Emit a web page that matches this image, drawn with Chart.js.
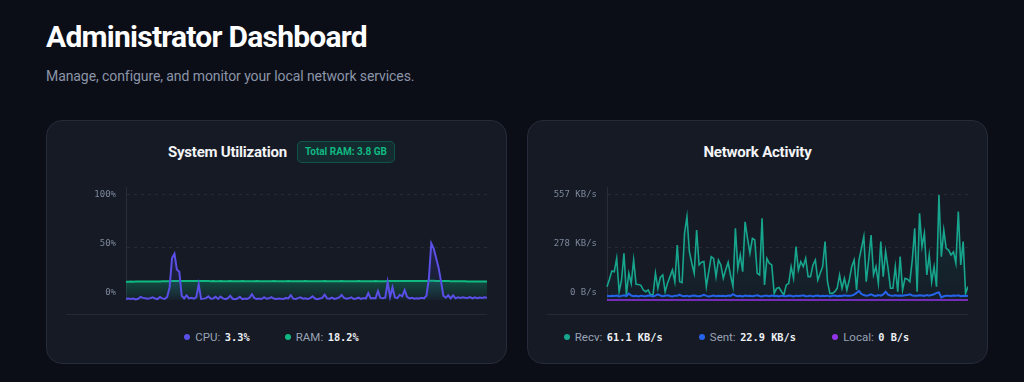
<!DOCTYPE html>
<html>
<head>
<meta charset="utf-8">
<script src="https://cdn.jsdelivr.net/npm/chart.js@4.4.1/dist/chart.umd.min.js"></script>
<style>
  html, body { margin:0; padding:0; }
  body { width:1024px; height:382px; background:#0b0e17; font-family: Roboto, "Noto Sans", sans-serif; position:relative; overflow:hidden; }
  h1 { position:absolute; left:46px; top:19px; margin:0; font:700 30px/36px Roboto; color:#ffffff; letter-spacing:-0.75px; white-space:nowrap; }
  .sub { position:absolute; left:46px; top:66px; margin:0; font:400 14px/20px Roboto; color:#8b95a8; letter-spacing:-0.08px; white-space:nowrap; }
  .card { position:absolute; top:120px; width:461px; height:244px; box-sizing:border-box; background:#151a25; border:1px solid #252b38; border-radius:16px; }
  .titlerow { position:absolute; top:141px; height:22px; width:461px; box-sizing:border-box; display:flex; justify-content:center; align-items:center; gap:10px; }
  .ctitle { font:700 15px/20px Roboto; color:#f3f4f6; letter-spacing:-0.22px; white-space:nowrap; }
  .badge { font:700 10px/20px Roboto; color:#10b981; background:rgba(16,185,129,0.12); border:1px solid rgba(16,185,129,0.28); border-radius:5px; padding:0 7px; height:20px; white-space:nowrap; }
  .sep { position:absolute; top:314px; height:1px; width:421px; background:#232937; }
  .legend { position:absolute; top:329px; height:16px; width:421px; display:flex; justify-content:center; align-items:center; gap:19px; }
  .item { display:flex; align-items:center; white-space:nowrap; }
  .dot { width:6px; height:6px; border-radius:50%; margin-right:5px; }
  .lab { font:400 11.5px/16px Roboto; color:#9aa3b4; margin-right:4.5px; }
  .val { font:700 10.3px/16px "DejaVu Sans Mono", monospace; color:#eef0f4; display:inline-block; }
  canvas { position:absolute; }
</style>
</head>
<body>
<h1>Administrator Dashboard</h1>
<p class="sub">Manage, configure, and monitor your local network services.</p>

<div class="card" style="left:46px"></div>
<div class="card" style="left:527px"></div>

<div class="titlerow" style="left:46px; padding-left:10px"><span class="ctitle">System Utilization</span><span class="badge">Total RAM: 3.8 GB</span></div>
<div class="titlerow" style="left:527px"><span class="ctitle">Network Activity</span></div>

<canvas id="cpuChart" width="421" height="127" style="left:66px; top:180px; width:421px; height:127px"></canvas>
<canvas id="netChart" width="421" height="127" style="left:547px; top:180px; width:421px; height:127px"></canvas>

<div class="sep" style="left:66px"></div>
<div class="sep" style="left:547px"></div>

<div class="legend" style="left:66px" id="legendSys"></div>
<div class="legend" style="left:547px" id="legendNet"></div>

<script>
// ---------------- DATA ----------------
const timeLabels = Array.from({length: 150}, (_, i) => (i - 149) + 's');

const cpuValues = [
  1.3,1.5,1.0,1.4,0.6,1.2,3.0,2.0,1.6,1.2,
  1.8,2.6,1.4,0.9,2.8,1.5,1.0,3.0,12,40,
  44,29,27,4,1.5,4.5,1.5,2.0,1.2,2.5,
  15,1.0,1.3,1.8,3.5,1.2,1.5,3.0,1.0,3.2,
  1.5,0.8,1.6,4.0,1.2,0.7,1.4,3.0,0.8,1.5,
  1.0,2.2,5.5,1.8,1.0,1.4,1.0,2.6,1.2,1.6,
  2.8,1.4,0.9,1.5,1.3,1.0,2.0,1.5,4.5,1.3,
  1.0,1.8,2.5,1.2,1.6,1.0,1.8,3.5,1.4,0.8,
  1.5,2.0,5.0,1.5,1.2,2.2,1.0,1.6,2.4,4.8,
  2.0,1.2,1.6,2.6,1.0,1.5,2.2,1.0,1.8,1.4,
  6.5,1.5,2.0,1.5,8.5,2.0,1.6,2.2,17,3.0,
  12,2.5,1.8,5.0,3.5,9.5,3.0,1.5,2.2,1.2,
  1.6,1.5,2.2,1.5,4.0,20,54,49,40,31,
  18,4.0,2.2,4.5,1.5,4.5,1.6,2.5,2.0,2.6,
  2.2,2.0,2.8,1.6,2.6,1.8,2.4,2.0,2.5,2.2
];

const ramValues = [
  17.4,17.4,17.5,17.4,17.5,17.5,17.5,17.6,17.6,17.6,
  17.6,17.7,17.7,17.7,17.7,17.8,17.8,17.8,17.9,18.0,
  18.1,18.1,18.1,18.0,18.0,18.0,18.1,18.0,18.0,18.0,
  18.0,18.0,18.1,18.0,18.0,17.9,18.0,17.9,17.9,18.0,
  17.9,17.9,17.9,18.0,17.9,17.9,17.9,17.9,18.0,17.9,
  17.9,17.9,17.9,17.9,18.0,17.9,17.9,17.9,17.9,17.9,
  17.9,18.0,17.9,17.9,17.9,17.9,17.9,18.0,17.9,17.9,
  17.9,17.9,17.9,17.9,18.0,17.9,17.9,17.9,17.9,17.9,
  17.9,17.9,18.0,17.9,17.9,17.9,17.9,17.9,17.9,18.0,
  17.9,17.9,17.9,17.9,17.9,17.9,18.0,17.9,17.9,17.9,
  17.9,17.9,17.9,18.0,17.9,17.9,17.9,17.9,18.0,18.0,
  18.0,18.0,18.0,18.0,18.0,18.1,18.1,18.1,18.1,18.1,
  18.1,18.2,18.2,18.2,18.2,18.3,18.3,18.3,18.2,18.2,
  18.1,18.1,18.0,18.0,17.9,17.9,17.9,17.8,17.8,17.8,
  17.8,17.7,17.7,17.7,17.7,17.6,17.6,17.6,17.6,17.6
];

const recvValues = [
  70,110,154,150,221,44,106,248,27,142,
  88,212,83,82,78,53,44,53,27,27,
  142,62,120,133,44,90,124,159,97,292,
  97,92,354,442,256,195,142,371,186,200,
  204,71,150,230,221,124,212,186,115,160,
  200,130,71,380,168,239,150,415,327,248,
  327,318,142,133,433,80,221,195,186,35,
  62,67,45,27,80,88,177,115,283,159,
  203,177,221,124,124,186,212,106,142,177,
  310,97,35,35,44,62,133,62,115,53,
  106,177,212,53,212,274,336,97,212,345,
  133,177,88,310,124,257,168,62,62,177,
  44,230,53,115,110,97,212,380,44,460,
  283,354,133,239,97,177,71,557,230,371,
  274,265,239,255,195,469,186,310,35,71
];

const sentValues = [
  22,20,23,21,24,19,22,25,21,34,
  24,20,22,19,23,21,20,24,22,19,
  23,30,24,20,22,25,21,19,23,22,
  28,21,20,23,19,22,24,21,20,23,
  27,22,19,21,24,20,23,21,22,20,
  24,22,31,23,20,22,19,24,21,23,
  20,22,25,21,19,23,22,20,24,21,
  22,19,23,21,20,24,22,19,23,21,
  22,25,20,21,23,19,22,24,20,22,
  21,23,19,22,24,20,23,21,25,22,
  23,24,28,38,48,32,26,23,25,30,
  24,22,26,23,30,44,28,24,22,25,
  23,24,22,25,27,30,24,22,23,25,
  24,22,26,23,27,30,38,40,14,20,
  22,23,21,24,22,25,20,23,21,23
];

const localValues = [
  0,0,0,0,0,0,0,0,0,0, 0,0,0,0,0,0,0,0,0,0,
  0,0,0,0,0,0,0,0,0,0, 0,0,0,0,0,0,0,0,0,0,
  0,0,0,0,0,0,0,0,0,0, 0,0,0,0,0,0,0,0,0,0,
  0,0,0,0,0,0,0,0,0,0, 0,0,0,0,0,0,0,0,0,0,
  0,0,0,0,0,0,0,0,0,0, 0,0,0,0,0,0,0,0,0,0,
  0,0,0,0,0,0,0,0,0,0, 0,0,0,0,0,0,0,0,0,0,
  0,0,0,0,0,0,0,0,0,0, 0,0,0,0,0,0,0,0,0,0,
  0,0,0,0,0,0,0,0,0,0
];

const cpuTickValues = [0, 50, 100];
const cpuTickLabels = ['0%', '50%', '100%'];
const netTickValues = [0, 278.5, 557];
const netTickLabels = ['0 B/s', '278 KB/s', '557 KB/s'];

const sysLegend = [
  { label: 'CPU:', value: '3.3%', color: '#5a4fe6' },
  { label: 'RAM:', value: '18.2%', color: '#10b981' }
];
const netLegend = [
  { label: 'Recv:', value: '61.1 KB/s', color: '#17a68d' },
  { label: 'Sent:', value: '22.9 KB/s', color: '#2563eb' },
  { label: 'Local:', value: '0 B/s', color: '#9333ea' }
];

// ---------------- LEGENDS ----------------
function buildLegend(el, items, minW) {
  items.forEach(it => {
    const d = document.createElement('div'); d.className = 'item';
    d.innerHTML = '<span class="dot" style="background:' + it.color + '"></span>' +
      '<span class="lab">' + it.label + '</span>' +
      '<span class="val" style="min-width:' + minW + 'px">' + it.value + '</span>';
    el.appendChild(d);
  });
}
buildLegend(document.getElementById('legendSys'), sysLegend, 41);
buildLegend(document.getElementById('legendNet'), netLegend, 73);

// ---------------- CHARTS ----------------
const yLabelPlugin = {
  id: 'yLabels',
  afterDraw(chart, args, opts) {
    const sc = chart.scales.y, ctx = chart.ctx;
    const vals = opts.values, labels = opts.labels;
    const yTop = sc.getPixelForValue(vals[vals.length - 1]);
    ctx.save();
    ctx.font = '9px "DejaVu Sans Mono", monospace';
    ctx.fillStyle = '#7e889b';
    ctx.textAlign = 'right';
    ctx.textBaseline = 'middle';
    vals.forEach((v, i) => {
      const py = sc.getPixelForValue(v);
      const ly = yTop + (py - yTop) * 0.933;
      ctx.fillText(labels[i], chart.chartArea.left - 10, ly);
    });
    ctx.restore();
  }
};

function vGradient(ctx, c0, c1, topVal) {
  const chart = ctx.chart;
  const area = chart.chartArea;
  if (!area) return c1;
  const top = topVal === undefined ? area.top : chart.scales.y.getPixelForValue(topVal);
  const g = chart.ctx.createLinearGradient(0, top, 0, area.bottom);
  g.addColorStop(0, c0);
  g.addColorStop(1, c1);
  return g;
}

function yScale(max, tickVals) {
  return {
    min: 0, max: max,
    afterBuildTicks: s => { s.ticks = tickVals.map(v => ({ value: v })); },
    afterFit: s => { s.width = 60; },
    ticks: { display: false },
    grid: {
      color: c => (c.tick && c.tick.value === 0) ? 'rgba(0,0,0,0)' : 'rgba(255,255,255,0.08)',
      drawTicks: false, lineWidth: 1
    },
    border: { display: true, color: '#272d3b', width: 1, dash: [3, 4] }
  };
}

const common = {
  responsive: false, animation: false,
  layout: { padding: { top: 7, bottom: 7, left: 0, right: 0 } },
  plugins: { legend: { display: false }, tooltip: { enabled: false } },
  elements: { point: { radius: 0 }, line: { tension: 0 } },
  events: []
};

new Chart(document.getElementById('cpuChart'), {
  type: 'line',
  data: {
    labels: timeLabels,
    datasets: [
      { label: 'CPU', data: cpuValues, borderColor: '#5a4fe6', borderWidth: 2, fill: 'origin', clip: false,
        backgroundColor: c => vGradient(c, 'rgba(90,79,230,0.38)', 'rgba(90,79,230,0.03)') },
      { label: 'RAM', data: ramValues, borderColor: '#10b981', borderWidth: 2, fill: 'origin', clip: false,
        backgroundColor: c => vGradient(c, 'rgba(16,185,129,0.30)', 'rgba(16,185,129,0.04)', 18.3) }
    ]
  },
  options: Object.assign({}, common, {
    scales: { x: { display: false }, y: yScale(107.6, cpuTickValues) },
    plugins: Object.assign({}, common.plugins, { yLabels: { values: cpuTickValues, labels: cpuTickLabels } })
  }),
  plugins: [yLabelPlugin]
});

new Chart(document.getElementById('netChart'), {
  type: 'line',
  data: {
    labels: timeLabels,
    datasets: [
      { label: 'Recv', data: recvValues, borderColor: '#17a68d', borderWidth: 1.6, fill: 'origin', clip: false, order: 2,
        backgroundColor: c => vGradient(c, 'rgba(23,166,141,0.14)', 'rgba(23,166,141,0.03)') },
      { label: 'Sent', data: sentValues, borderColor: '#2563eb', borderWidth: 2, fill: false, clip: false, order: 0 },
      { label: 'Local', data: localValues, borderColor: '#9333ea', borderWidth: 1.6, fill: false, clip: false, order: 1 }
    ]
  },
  options: Object.assign({}, common, {
    scales: { x: { display: false }, y: yScale(599.4, netTickValues) },
    plugins: Object.assign({}, common.plugins, { yLabels: { values: netTickValues, labels: netTickLabels } })
  }),
  plugins: [yLabelPlugin]
});
</script>
</body>
</html>
